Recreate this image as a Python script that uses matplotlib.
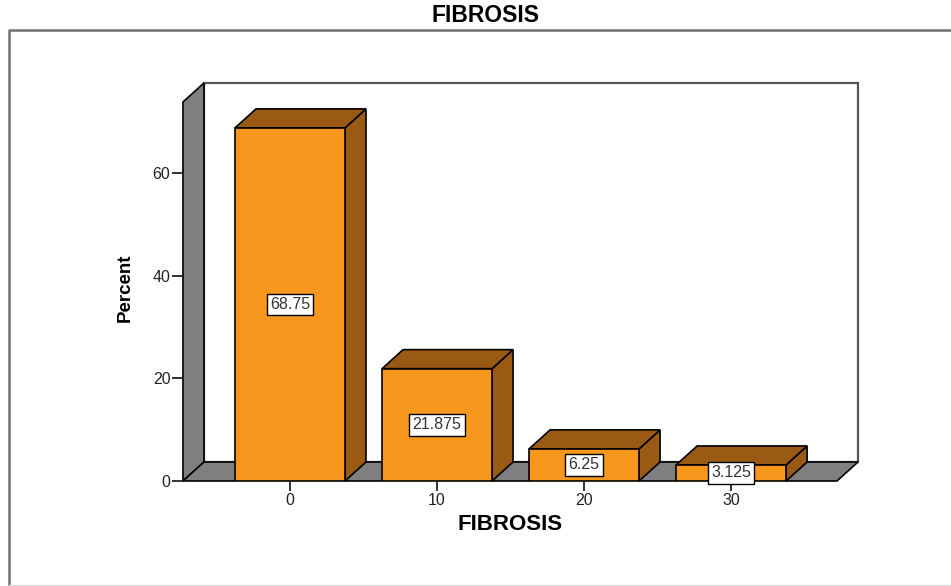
import numpy as np
import matplotlib.pyplot as plt
from matplotlib.patches import Polygon
from matplotlib.transforms import IdentityTransform
from matplotlib.lines import Line2D

plt.rcParams['font.family'] = ['Liberation Sans', 'DejaVu Sans']

# fibrosis score vs percent of cases
categories = ['0', '10', '20', '30']
percent = [68.75, 21.875, 6.25, 3.125]
value_labels = ['68.75', '21.875', '6.25', '3.125']

FRONT = '#F7971E'
SIDE = '#9A5A14'
WALL = '#7F7F7F'
DX, DY = 21, 19     # depth of the fake 3d box, pixels
BAR_W = 0.748
XMIN, XMAX = -0.728, 3.72
YMAX = 73.8

fig = plt.figure(figsize=(9.51, 5.86), dpi=100)
ax = fig.add_axes([0.1924, 0.1792, 0.6877, 0.6468])
x = np.arange(len(categories))
ax.set_xlim(XMIN, XMAX)
ax.set_ylim(0, YMAX)
for s in ax.spines.values():
    s.set_visible(False)
ax.patch.set_visible(False)


def px(pts, back=False):
    p = ax.transData.transform(pts)
    if back:
        p = p + np.array([DX, DY])
    return p


def face(pts, color, z, ec='black', lw=1.2):
    poly = Polygon(pts, closed=True, facecolor=color, edgecolor=ec, lw=lw,
                   transform=IdentityTransform(), zorder=z, clip_on=False)
    ax.add_patch(poly)


# back wall, left wall, floor
face(px([(XMIN, 0), (XMAX, 0), (XMAX, YMAX), (XMIN, YMAX)], back=True), 'white', 1, ec='#555555', lw=1.6)
lw_front = px([(XMIN, 0), (XMIN, YMAX)])
lw_back = px([(XMIN, YMAX), (XMIN, 0)], back=True)
face(np.vstack([lw_front, lw_back]), WALL, 1.1)
fl_front = px([(XMIN, 0), (XMAX, 0)])
fl_back = px([(XMAX, 0), (XMIN, 0)], back=True)
face(np.vstack([fl_front, fl_back]), WALL, 1.2)

# bars: front face + top + right side
ax.bar(x, percent, width=BAR_W, color=FRONT, edgecolor='black', lw=1.2, zorder=3)
for i, h in enumerate(percent):
    x0, x1 = i - BAR_W / 2, i + BAR_W / 2
    top = np.vstack([px([(x0, h), (x1, h)]), px([(x1, h), (x0, h)], back=True)])
    side = np.vstack([px([(x1, 0), (x1, h)]), px([(x1, h), (x1, 0)], back=True)])
    face(side, SIDE, 2)
    face(top, SIDE, 2)
    ax.text(i, h / 2, value_labels[i], ha='center', va='center', fontsize=11.5,
            color='#333333', zorder=5,
            bbox=dict(boxstyle='square,pad=0.2', fc='white', ec='black', lw=1))

ax.set_yticks([0, 20, 40, 60])
ax.set_xticks(x)
ax.set_xticklabels(categories)
ax.tick_params(axis='y', direction='out', length=8, width=1.3, color='#222222',
               labelsize=11.5, pad=1, labelcolor='#222222')
ax.tick_params(axis='x', direction='out', length=7, width=1.3, color='#222222',
               labelsize=11.5, pad=2, labelcolor='#222222')

fig.text(485 / 951, 1 - 16 / 586, 'FIBROSIS', ha='center', va='center',
         fontsize=16.5, fontweight='bold')
fig.text(510 / 951, 1 - 525 / 586, 'FIBROSIS', ha='center', va='center',
         fontsize=16, fontweight='bold')
fig.text(125 / 951, 1 - 288 / 586, 'Percent', ha='center', va='center',
         fontsize=13.5, fontweight='bold', rotation=90)

# outer chart frame
fig.add_artist(Line2D([9 / 951, 9 / 951, 1.0], [1 / 586, 556 / 586, 556 / 586],
                      color='#707070', lw=1.8))
fig.add_artist(Line2D([9 / 951, 1.0], [1.5 / 586, 1.5 / 586], color='#dddddd', lw=1))

fig.savefig('out.png', dpi=100)
